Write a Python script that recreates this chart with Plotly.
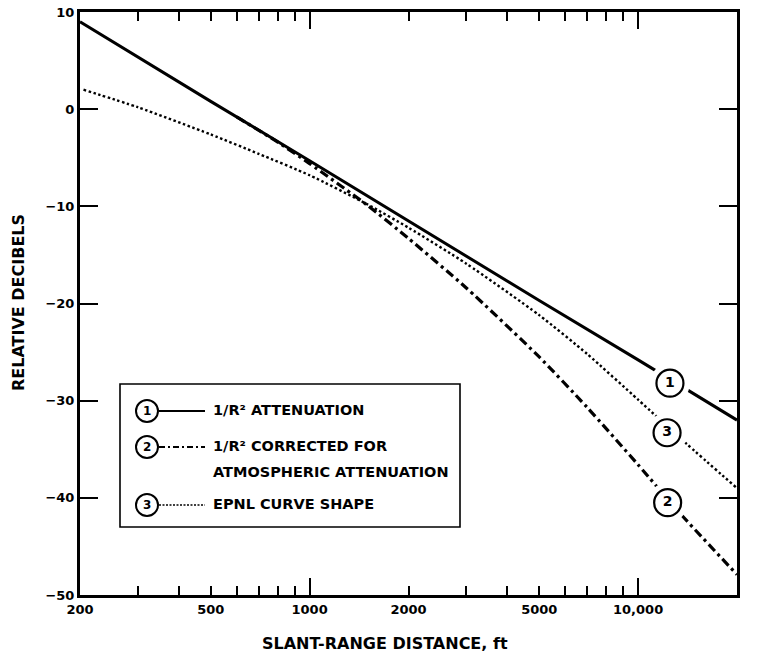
import plotly.graph_objects as go

# ---------------- data ----------------
# Curve 1: 1/R^2 attenuation
c1_x = [200, 500, 1000, 2000, 5000, 10000, 20000]
c1_y = [9.0, 0.8, -5.3, -11.5, -19.7, -25.8, -32.0]

# Curve 2: 1/R^2 corrected for atmospheric attenuation
c2_x = [600, 800, 1000, 1500, 2000, 3000, 5000, 7000, 10000, 13500, 20000]
c2_y = [-0.8, -3.4, -5.6, -9.9, -13.3, -18.4, -25.5, -30.7, -36.6, -41.7, -47.9]

# Curve 3: EPNL curve shape
c3_x = [205, 300, 500, 700, 1000, 1500, 2000, 3000, 5000, 7000, 10000, 14000, 20000]
c3_y = [2.0, 0.2, -2.6, -4.6, -6.8, -9.8, -12.2, -15.9, -21.2, -25.2, -29.9, -34.4, -39.0]

# Curve label positions (circled numbers on the curves)
lab_x = [12500, 12300, 12250]
lab_y = [-28.2, -40.5, -33.3]
lab_t = ["1", "2", "3"]

# Axis ticks
x_labvals = [200, 500, 1000, 2000, 5000, 10000, 20000]
x_labtext = ["200", "500", "1000", "2000", "5000", "10,000", "20,000"]
x_minor = [300, 400, 600, 700, 800, 900, 3000, 4000, 6000, 7000, 8000, 9000]
x_major = [1000, 10000]
y_tickvals = [10, 0, -10, -20, -30, -40, -50]

x_title = "SLANT-RANGE DISTANCE, ft"
y_title = "RELATIVE DECIBELS"

# Legend entries (one list item per printed line)
leg_num = ["1", "2", "3"]
leg_lines = [["1/R² ATTENUATION"],
             ["1/R² CORRECTED FOR", "ATMOSPHERIC ATTENUATION"],
             ["EPNL CURVE SHAPE"]]

# ---------------- layout helpers ----------------
W, H = 760, 655
ML, MR, MT, MB = 80, 23, 12, 60
PW, PH = W - ML - MR, H - MT - MB
FONT = "DejaVu Sans"
XR = [2.30103, 4.30103]


def px(x):
    return (x - ML) / PW


def py(y):
    return (MT + PH - y) / PH


fig = go.Figure()

fig.add_trace(go.Scatter(x=c3_x, y=c3_y, mode="lines",
                         line=dict(color="black", width=2.4, dash="2.5px,2.5px",
                                   shape="spline", smoothing=0.6),
                         hoverinfo="skip", showlegend=False))
fig.add_trace(go.Scatter(x=c2_x, y=c2_y, mode="lines",
                         line=dict(color="black", width=3.2, dash="9px,4px,3px,4px",
                                   shape="spline", smoothing=0.6),
                         hoverinfo="skip", showlegend=False))
fig.add_trace(go.Scatter(x=c1_x, y=c1_y, mode="lines",
                         line=dict(color="black", width=3),
                         hoverinfo="skip", showlegend=False))

# white gaps under the circled labels
fig.add_trace(go.Scatter(x=lab_x, y=lab_y, mode="markers",
                         marker=dict(symbol="circle", size=40, color="white",
                                     line=dict(width=0)),
                         hoverinfo="skip", showlegend=False))
fig.add_trace(go.Scatter(x=lab_x, y=lab_y, mode="markers+text", text=lab_t,
                         textposition="middle center",
                         textfont=dict(family=FONT, size=14, color="black", weight="bold"),
                         marker=dict(symbol="circle", size=27, color="white",
                                     line=dict(width=2.2, color="black")),
                         hoverinfo="skip", showlegend=False))

# invisible trace to activate the overlay axis carrying the long ticks
fig.add_trace(go.Scatter(x=[c1_x[0], c1_x[-1]], y=[c1_y[0], c1_y[-1]], xaxis="x2",
                         mode="markers", marker=dict(opacity=0), hoverinfo="skip",
                         showlegend=False))

# ---------------- legend drawn by hand ----------------
shapes = []
annotations = []
shapes.append(dict(type="rect", xref="paper", yref="paper",
                   x0=px(120), x1=px(460), y0=py(527), y1=py(384),
                   line=dict(color="black", width=1.6), fillcolor="white", layer="above"))
row_y = [411, 447, 505]
line_gap = 26
dashes = ["solid", "6px,3px,2px,3px", "2px,1.5px"]
widths = [2, 2.2, 1.6]
for i in range(3):
    yc = row_y[i]
    shapes.append(dict(type="circle", xref="paper", yref="paper",
                       xsizemode="pixel", ysizemode="pixel",
                       xanchor=px(147), yanchor=py(yc),
                       x0=-11, x1=11, y0=-11, y1=11,
                       line=dict(color="black", width=2), layer="above"))
    annotations.append(dict(xref="paper", yref="paper", x=px(147), y=py(yc),
                            text=leg_num[i], showarrow=False,
                            xanchor="center", yanchor="middle",
                            font=dict(family=FONT, size=12, color="black", weight="bold")))
    shapes.append(dict(type="line", xref="paper", yref="paper",
                       x0=px(159), x1=px(205), y0=py(yc), y1=py(yc),
                       line=dict(color="black", width=widths[i], dash=dashes[i]),
                       layer="above"))
    for j, txt in enumerate(leg_lines[i]):
        annotations.append(dict(xref="paper", yref="paper", x=px(211),
                                y=py(yc + j * line_gap - 1), text=txt, showarrow=False,
                                xanchor="left", yanchor="middle", align="left",
                                font=dict(family=FONT, size=14.5, color="black",
                                          weight="bold")))

# axis titles
title_font = dict(family=FONT, size=16, color="black", weight="bold")
annotations.append(dict(xref="paper", yref="paper", x=px(385), y=py(643),
                        text=x_title, showarrow=False,
                        xanchor="center", yanchor="middle", font=title_font))
annotations.append(dict(xref="paper", yref="paper", x=px(18), y=py(303),
                        text=y_title, showarrow=False, textangle=-90,
                        xanchor="center", yanchor="middle", font=title_font))

tick_common = dict(type="log", range=XR, automargin=False, tickmode="array",
                   ticks="inside", tickwidth=2, tickcolor="black",
                   mirror="ticks", showgrid=False, zeroline=False)

fig.update_layout(
    width=W, height=H,
    margin=dict(l=ML, r=MR, t=MT, b=MB, autoexpand=False),
    paper_bgcolor="white", plot_bgcolor="white",
    shapes=shapes, annotations=annotations,
    font=dict(family=FONT, color="black"),
    xaxis=dict(**tick_common, tickvals=x_labvals, ticktext=x_labtext, ticklen=9,
               showline=True, linecolor="black", linewidth=3,
               minor=dict(tickmode="array", tickvals=x_minor, ticks="inside",
                          ticklen=9, tickwidth=2, tickcolor="black", showgrid=False),
               tickfont=dict(family=FONT, size=13, color="black", weight="bold")),
    xaxis2=dict(**tick_common, overlaying="x", anchor="y", tickvals=x_major,
                ticklen=17, showticklabels=False, showline=False),
    yaxis=dict(range=[-50, 10], tickmode="array", tickvals=y_tickvals, automargin=False,
               ticks="inside", ticklen=18, tickwidth=2, tickcolor="black",
               showline=True, linecolor="black", linewidth=3, mirror="ticks",
               showgrid=False, zeroline=False,
               tickfont=dict(family=FONT, size=13, color="black", weight="bold")),
)

fig.write_html("out.html")
